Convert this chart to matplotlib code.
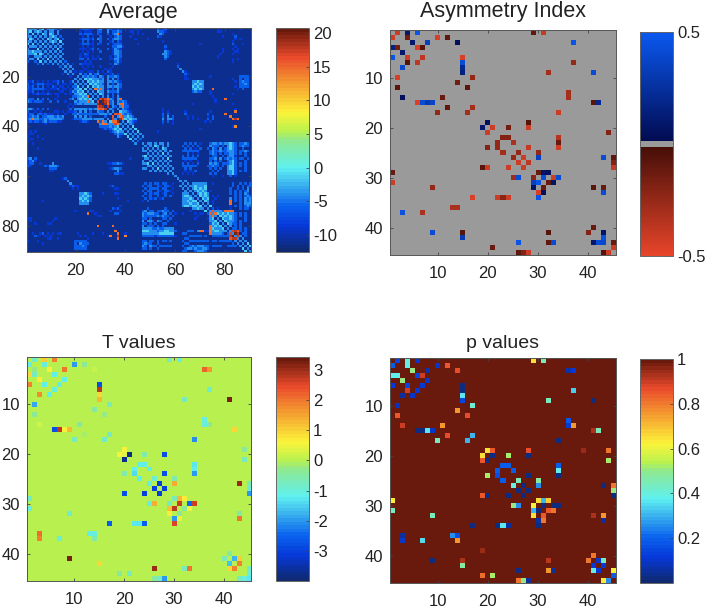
import numpy as np
import matplotlib
matplotlib.use('Agg')
import matplotlib.pyplot as plt
from matplotlib.colors import LinearSegmentedColormap

plt.rcParams['font.family'] = ['Liberation Sans', 'DejaVu Sans']
plt.rcParams['axes.unicode_minus'] = False

# Average connectivity. Levels per cell, groups of ten columns
avg_levels = {'.': -11, '1': -8.5, '2': -6, '3': -4, '4': -1.5}
avg_rows = [
    "3.33.34.33 32.2...... .122211.23 ..321121.. ...1.1.... ..2112.... .......... ......1... .....1....",
    "34.343.3.3 3.3....... .1.111..22 ..3.2232.. .11.1..... ..3221.... .......... ......11.. ..........",
    "..4.3.43.4 3.3....... .212221.21 ..2.2331.. ..1.1.1... ...32..... .......... .......... ..1.......",
    "...3.3.3.3 43.2...... ..1.2.1..2 ...1.232.. .1........ ..21...... .......... ........1. ...2......",
    "....3.3.43 .34.2..... .122212.32 ..2.2332.. ...1....1. .......... .......... .......... ...1.1....",
    ".....3.3.3 43.4...... ..2.2.1..2 ...12.21.. .......... ....1..... .......... .......... ..1.......",
    "......4.3. 3.3.3..... .122211.21 ..2.1222.. ....1..... .......... .........1 .......... ..2...1...",
    ".......3.3 .3.3...... ..1.1.1... ....22331. .......... .....2.... .......... .......... ...1......",
    "........3. 3.4.2..... .111.12.2. ..2.1321.. .......... .....1.... .......... ........1. ..1.1.....",
    ".........3 .3.3...... ..1.1.1..2 ....1332.. .......... .....321.. .......... ........1. ...11.....",
    ".......... 3.3.3..... .1.21..... ....1332.. .......... ....3321.. .......... .......1.. ..1.......",
    ".......... .3.3...... .1.11.1.1. ...1.232.. .......... .....32... .......... ......1... ..........",
    ".......... ..3.3..... .22.2.11.2 ...11331.. .......... .....2.... .......... .......... ..1.1.....",
    ".......... ...3.2.... ...1.1.... .....231.. .......... .......... .......... .......... ..1.......",
    ".......... ....3.3.1. .21111.... ...1.32... .......... .......... 1......... .......... ..........",
    ".......... .....3.3.. ..1.1.1..1 ....1..... .......... .......... 2......... .......... ..........",
    ".......... ......3.3. ...1...... .1.1...... .......... .......... .3........ .......... ..........",
    ".......... .......3.1 .11.111.2. 1.21...... .......... .......... ..31...... .......... ..........",
    ".......... ........3. .3.2.3.23. .1.12.1... .......... .......... ...21..... .......... ..........",
    ".......... .......... 3.323232.3 2.32232... .......... .......... ...1...... ...1...... .....2222.",
    ".......... .......... .3.4343332 3.3.3.2... .......... .......... ...11..... .......... ..1..2.22.",
    ".......... .......... ..3.434343 3.332321.. .......... .......... ......3343 3......... ...1.2322.",
    ".......... .......... ...3.43433 2.3.2.32.. .......... .......... ......3434 3......... .....2232.",
    ".......... .......... ....4.4343 3.332332.. .......... .......... ......4343 3......... ...1.2222.",
    ".......... .......... .....3.434 3.2.2.31.. .......... .......... ......3434 3......... ....1.2...",
    ".......... .......... ......3.43 3.32223... .......... .......... ......2322 ...1...... ..........",
    ".......... .......... .......3.4 3.2.2.2... .......... .......... .......... ...1...... ..1.......",
    ".......... .......... ........3. 3.3.2.3... .......... .......... .......... ....1..... ..........",
    ".......... .......... .........3 .3232.32.. .......... .......... .......... .....1.... ..........",
    ".......... .......... .......... .3.23.3232 .......... .......... .......... .....1.... ..........",
    ".......... .......... .......... .2.23.3.32 1......... .......... ......1... .......... ..1.......",
    ".......... .......... .......... ..3.32.332 2......... .......... .......... .......... ..........",
    ".......... .......... .......... ...32.3.32 1......... ....1..... .......... .......... ...1......",
    ".......... .......... .......... ....3..433 21........ ....1.1... ...1...... ...1...... ..........",
    ".......... .......... .......... .....3..32 32........ ....2.2... ...2...... ..2....... ..........",
    ".......... .......... .......... ......3.43 432....... ....2.3.2. ....1.1... ..1.2..... ..........",
    ".......... .......... .......... .......434 3433...... ....3.332. ....1.1.1. ..2.2..... ..........",
    ".......... .......... .......... ........3. 4321...... ....2.2.1. .......... .1.1...... ..........",
    ".......... .......... .......... .........3 .32....... ....1...1. .......... .......... ..........",
    ".......... .......... .......... .......... 3.4....... .......... .......... .......... ..1.......",
    ".......... .......... .......... .......... .3.4...... .......... .........1 .......... ..........",
    ".......... .......... .......... .......... ..3.4..... ..1....... .......... .......... ..........",
    ".......... .......... .......... .......... ...3.3.... .......... .......... .......... ..........",
    ".......... .......... .......... .......... ....3.3... .......... .......... .......... ..........",
    ".......... .......... .......... .......... .....2.... .......... .......... .......... ..........",
    ".......... .......... .......... .......... .......... .......... .......... .......... ..........",
    ".......... .......... .......... .......... ......3.33 .3.33.3... ...2.2.2.1 ...2332323 3432.2232.",
    ".......... .......... .......... .......... .......3.3 .43.3.3... ..2.2.2.2. ...3222.2. 3432.2322.",
    ".......... .......... .......... .......... ........3. 3.3.43.... ...2.2.1.2 ..2.32.3.2 3432..2...",
    ".......... .......... .......... .......... .........3 .3.3.3.3.. ..2222222. ...2322322 3332.2232.",
    ".......... .......... .......... .......... .......... 3.3.4.3... ....2.1.1. ...232.2.2 2332.2.2..",
    ".......... .......... .......... .......... .......... .3.3.3.3.. ..2.2.2.2. ....22..2. 2331...2..",
    ".......... .......... .......... .......... .......... ..3.3.4... ..222222.. ...223.3.2 3232.22.2.",
    ".......... .......... .......... .......... .......... ...3.3.3.. ...1.1..1. ...2.2.2.. 2342...2..",
    ".......... .......... .......... .......... .......... ....3.3... ..2.2.1.2. ...3232.22 2342.2.2..",
    ".......... .......... .......... .......... .......... .....3.3.. ..222222.. ..22322.2. 3442.2.2..",
    ".......... .......... .......... .......... .......... ......3.3. ...2.2.... ...2.2.2.. 3442...2..",
    ".......... .......... .......... .......... .......... .......3.. ...1.1.2.. ....2.2... 3342.2.2..",
    ".......... .......... .......... .......... .......... ........3. ..1.1.1... ...2.2.... 3342......",
    ".......... .......... .......... .......... .......... .........3 .......... ....1...1. .2.1......",
    ".......... .......... .......... .......... .......... .......... 3......... .......... ..........",
    ".......... .......... .......... .......... .......... .......... .3.3...... .......... ..........",
    ".......... .......... .......... .......... .......... .......... ..3.3.3333 33..1..... ..2..2.2.2",
    ".......... .......... .......... .......... .......... .......... ...3.33433 34........ ..2.2.2.22",
    ".......... .......... .......... .......... .......... .......... ....3.3434 34........ .2..2.2.3.",
    ".......... .......... .......... .......... .......... .......... .....3.343 43.1...... .2.2.2.23.",
    ".......... .......... .......... .......... .......... .......... ......3.34 343....... .2.2.2.32.",
    ".......... .......... .......... .......... .......... .......... .......3.4 343.1.1... ...2.2.232",
    ".......... .......... .......... .......... .......... .......... ........3. 434..1.... .3.2.2.323",
    ".......... .......... .......... .......... .......... .......... .........3 .43.1..... ...2.2.323",
    ".......... .......... .......... .......... .......... .......... .......... 3.3.1..... .2...2.333",
    ".......... .......... .......... .......... .......... .......... .......... .3.4...... .1.2.2.232",
    ".......... .......... .......... .......... .......... .......... .......... ..3.2.1... .1...2.22.",
    ".......... .......... .......... .......... .......... .......... .......... ...3.3332. 322.......",
    ".......... .......... .......... .......... .......... .......... .......... ....3.4343 4332.2.2..",
    ".......... .......... .......... .......... .......... .......... .......... .....3.434 3432.2.2..",
    ".......... .......... .......... .......... .......... .......... .......... ......3.43 3432...2..",
    ".......... .......... .......... .......... .......... .......... .......... .......3.4 3332.2.2..",
    ".......... .......... .......... .......... .......... .......... .......... ........3. 4322.2....",
    ".......... .......... .......... .......... .......... .......... .......... .........3 .3.2.2....",
    ".......... .......... .......... .......... .......... .......... .......... .......... 3.22.2.2..",
    ".......... .......... .......... .......... .......... .......... .......... .......... .3.4.2.2..",
    ".......... .......... .......... .......... .......... .......... .......... .......... ..3.4.22..",
    ".......... .......... .......... .......... .......... .......... .......... .......... ...3.3.2..",
    ".......... .......... .......... .......... .......... .......... .......... .......... ....3.3...",
    ".......... .......... .......... .......... .......... .......... .......... .......... .....3.3..",
    ".......... .......... .......... .......... .......... .......... .......... .......... ......3.4.",
    ".......... .......... .......... .......... .......... .......... .......... .......... .......3.4",
    ".......... .......... .......... .......... .......... .......... .......... .......... ........3.",
    ".......... .......... .......... .......... .......... .......... .......... .......... .........3",
]
# the few hot cells of the average matrix: row, column, value
avg_hot = [(3, 37, 15), (25, 30, 15), (28, 25, 14), (29, 30, 17), (29, 31, 19), (29, 32, 17), (29, 33, 15),
           (30, 31, 20), (30, 32, 18), (30, 33, 16), (31, 32, 19), (31, 33, 15), (32, 33, 18), (31, 38, 15),
           (32, 39, 15), (29, 38, 15), (31, 39, 14), (35, 36, 16), (35, 37, 17), (36, 38, 15), (36, 39, 17),
           (37, 38, 19), (35, 38, 15), (37, 39, 15), (25, 75, 15), (29, 80, 15), (37, 84, 18), (34, 84, 14),
           (35, 80, 15), (36, 82, 14), (37, 83, 15), (37, 85, 15), (40, 84, 13), (70, 82, 15), (71, 82, 15),
           (74, 75, 16), (74, 80, 15), (74, 82, 14), (74, 83, 15), (75, 76, 15), (74, 81, 15), (80, 74, 15),
           (82, 83, 19), (82, 84, 18), (82, 85, 16), (83, 84, 20), (83, 85, 18), (84, 85, 18), (83, 82, 17)]

# Asymmetry index, non zero cells: row, column, value
asym_cells = [
    (1, 2, -.42), (1, 4, .1), (1, 6, .47), (1, 29, -.1), (1, 31, -.4),
    (2, 1, -.42), (2, 4, -.15), (2, 10, -.45), (2, 12, -.1),
    (3, 5, .1), (3, 8, .35), (3, 14, .05), (3, 37, .47),
    (4, 1, .15), (4, 2, -.15), (4, 6, -.45), (4, 7, -.06),
    (5, 3, .1), (6, 1, .47), (6, 4, -.42), (6, 7, -.38), (6, 15, -.45),
    (7, 4, -.05), (7, 6, -.38), (7, 15, .42), (7, 37, -.25),
    (8, 3, .4), (8, 15, .2), (9, 15, .15), (9, 32, -.3), (9, 41, .42),
    (10, 2, -.45), (10, 17, -.25), (11, 14, -.15), (12, 2, -.08), (12, 16, -.08),
    (13, 36, -.3), (14, 3, .05), (14, 11, -.12), (14, 36, -.3),
    (15, 6, -.45), (15, 7, .42), (15, 8, .3), (15, 9, .38), (15, 41, -.08), (15, 42, .2),
    (16, 12, -.1), (16, 17, -.3), (17, 10, -.25), (17, 16, -.3), (17, 34, -.42),
    (19, 20, .05), (19, 28, -.07), (20, 19, .1), (20, 21, -.42), (20, 24, -.15), (20, 28, -.42),
    (21, 20, -.42), (21, 44, -.2), (22, 23, -.2), (22, 24, -.2), (22, 34, -.35),
    (23, 22, -.25), (23, 25, -.32), (23, 34, -.12), (24, 20, -.2), (24, 22, -.25), (24, 28, -.4), (24, 34, -.42),
    (25, 23, -.3), (25, 26, -.25), (25, 30, -.25), (26, 25, -.25), (26, 27, -.42), (26, 30, .35),
    (26, 43, .42), (26, 45, -.1), (27, 26, -.42), (27, 28, -.38), (27, 45, -.2),
    (28, 19, -.08), (28, 20, -.42), (28, 24, -.42), (28, 27, -.42), (28, 45, -.4),
    (29, 1, -.12), (29, 30, -.12), (29, 31, .08), (29, 32, .05),
    (30, 25, -.28), (30, 26, .42), (30, 29, -.22), (30, 31, .42), (30, 33, -.42), (30, 34, .42),
    (31, 1, -.42), (31, 29, .35), (31, 30, .47), (31, 32, -.12), (31, 33, .08),
    (32, 9, -.25), (32, 29, .08), (32, 31, -.12), (32, 41, -.08), (32, 43, -.12),
    (33, 30, -.45), (33, 31, .05), (33, 43, .42),
    (34, 17, -.45), (34, 22, -.42), (34, 23, -.22), (34, 24, -.42), (34, 30, .47),
    (36, 13, -.32), (36, 14, -.32), (37, 3, .45), (37, 7, -.32), (40, 41, -.12),
    (41, 9, .42), (41, 15, -.07), (41, 32, -.07), (41, 40, -.2), (41, 43, .08),
    (42, 15, .3), (42, 43, .45), (43, 26, .47), (43, 32, -.1), (43, 33, .42),
    (43, 41, .1), (43, 42, .42), (43, 43, .4), (43, 45, -.12),
    (44, 21, -.12), (44, 45, -.42), (45, 26, -.1), (45, 27, -.2), (45, 28, -.42),
    (45, 43, -.06), (45, 44, -.42),
]

# T values, non zero cells
t_cells = [
    (1, 2, -.8), (1, 4, 1), (1, 6, 1.8), (1, 29, -.7), (1, 31, -.9),
    (2, 1, -1), (2, 4, -1), (2, 10, -2), (2, 12, -.4),
    (3, 2, -.2), (3, 5, .6), (3, 8, 2), (3, 14, .15), (3, 36, 2.2), (3, 37, 1.6),
    (4, 1, .9), (4, 2, -.8), (4, 6, -1.2), (5, 3, .7), (5, 8, -1.1),
    (6, 1, 1.8), (6, 4, -1.2), (6, 7, -1), (6, 15, -2.8),
    (7, 6, -1), (7, 15, 2.8), (7, 37, -.8), (8, 3, 1.7), (8, 5, -1.1), (8, 15, .9),
    (9, 15, 1.3), (9, 32, -.7), (9, 41, 3.3), (10, 2, -1.8), (10, 17, -.6), (11, 14, -.5),
    (12, 2, -.4), (12, 16, -.2), (13, 36, -1), (14, 3, .2), (14, 11, -.5), (14, 36, -1), (14, 37, -.4),
    (15, 6, -2.8), (15, 7, 2.8), (15, 8, .6), (15, 9, 1.3), (15, 42, .9),
    (16, 12, -.1), (16, 17, -.7), (17, 10, -.7), (17, 16, -.8), (17, 34, -2.1),
    (19, 20, .6), (19, 44, -.4), (20, 19, .6), (20, 20, .3), (20, 21, -3.8), (20, 24, -.6), (20, 28, -2.8),
    (21, 20, -3.7), (21, 44, -.7), (22, 23, -1.1), (22, 24, -1.1), (22, 34, -1.3),
    (23, 22, -1.2), (23, 25, -1), (23, 34, -1.1), (24, 20, -.6), (24, 22, -1.4), (24, 28, -2.8), (24, 34, -2),
    (25, 23, -1.1), (25, 26, -.9), (25, 30, -.6), (26, 25, -.9), (26, 27, -3), (26, 30, 1.4),
    (26, 43, 3), (26, 45, -.6), (27, 26, -3), (27, 28, -3), (27, 45, -.9),
    (28, 20, -2.8), (28, 24, -3), (28, 27, -3), (28, 45, -2),
    (29, 1, -.8), (29, 30, -.7), (29, 31, 1.3), (29, 32, .7),
    (30, 25, -.9), (30, 26, 1.4), (30, 29, -.7), (30, 31, 2.7), (30, 33, -2.4), (30, 34, 2.7),
    (31, 1, -1), (31, 29, 1.2), (31, 30, 2.8), (31, 32, -.4), (31, 33, .6),
    (32, 9, -.8), (32, 29, .7), (32, 31, -.4), (32, 43, -.5),
    (33, 30, -2), (33, 31, .5), (33, 43, 2),
    (34, 17, -2.5), (34, 22, -1.3), (34, 23, -1.3), (34, 24, -2.5), (34, 30, 2.6),
    (36, 3, 2.1), (36, 13, -1), (36, 14, -1), (37, 3, 1.8), (37, 7, -.9), (37, 14, -.6),
    (40, 41, -.5), (41, 9, 3.3), (41, 40, -.7), (41, 42, -1.7), (41, 43, 1),
    (42, 15, .9), (42, 41, -1.6), (42, 43, 1.8),
    (43, 26, 3), (43, 32, -.7), (43, 33, 2), (43, 41, .9), (43, 42, 1.8), (43, 45, -.8),
    (44, 19, -.3), (44, 21, -.7), (44, 45, -1),
    (45, 26, -.5), (45, 27, -.8), (45, 28, -2), (45, 43, -.7), (45, 44, -1), (45, 45, -1.3),
]

# p values, cells below 1
p_cells = [
    (1, 2, .15), (1, 4, .4), (1, 6, .1), (1, 29, .65), (1, 31, .45),
    (2, 1, .2), (2, 4, .38), (2, 10, .1), (2, 12, .85),
    (3, 5, .5), (3, 8, .07), (3, 14, .87), (3, 36, .07), (3, 37, .12),
    (4, 1, .38), (4, 2, .38), (4, 6, .15), (4, 7, .9), (5, 3, .5), (5, 8, .1),
    (6, 1, .12), (6, 4, .15), (6, 7, .12), (6, 15, .02),
    (7, 4, .9), (7, 6, .12), (7, 15, .02), (7, 37, .33),
    (8, 3, .05), (8, 5, .1), (8, 15, .37), (9, 15, .15), (9, 32, .45), (9, 41, .02),
    (10, 2, .08), (10, 17, .42), (11, 14, .75), (12, 2, .85), (12, 16, .87),
    (13, 36, .18), (14, 3, .9), (14, 11, .75), (14, 36, .12), (14, 37, .75),
    (15, 6, .03), (15, 7, .03), (15, 8, .37), (15, 9, .1), (15, 41, .93), (15, 42, .45),
    (16, 12, .87), (16, 17, .3), (17, 10, .45), (17, 16, .3), (17, 34, .02),
    (19, 20, .65), (19, 21, .85), (19, 28, .87), (19, 39, .95), (19, 44, .8),
    (20, 19, .65), (20, 21, .02), (20, 24, .52), (20, 28, .03),
    (21, 19, .85), (21, 20, .02), (21, 44, .52), (22, 23, .2), (22, 24, .2), (22, 34, .2),
    (23, 22, .2), (23, 25, .2), (23, 34, .38), (24, 20, .52), (24, 22, .17), (24, 28, .02), (24, 34, .03),
    (25, 23, .2), (25, 26, .45), (25, 30, .48), (26, 25, .4), (26, 27, .02), (26, 30, .25),
    (26, 43, .03), (26, 45, .8), (27, 26, .02), (27, 28, .02), (27, 45, .5),
    (28, 19, .85), (28, 20, .03), (28, 24, .02), (28, 27, .02), (28, 45, .03),
    (29, 1, .63), (29, 30, .65), (29, 31, .3), (29, 32, .68),
    (30, 25, .5), (30, 26, .25), (30, 29, .62), (30, 31, .03), (30, 33, .03), (30, 34, .03),
    (31, 1, .45), (31, 29, .3), (31, 30, .03), (31, 32, .85), (31, 33, .8),
    (32, 9, .45), (32, 29, .65), (32, 31, .85), (32, 41, .93), (32, 43, .75),
    (33, 30, .05), (33, 31, .8), (33, 43, .05),
    (34, 17, .03), (34, 22, .03), (34, 23, .37), (34, 24, .05), (34, 30, .03),
    (36, 3, .05), (36, 13, .25), (36, 14, .17), (37, 3, .1), (37, 7, .35), (37, 14, .75),
    (39, 19, .95), (40, 41, .8), (41, 9, .02), (41, 15, .93), (41, 32, .92), (41, 40, .8), (41, 42, .1), (41, 43, .45),
    (42, 15, .48), (42, 41, .12), (42, 43, .12),
    (43, 26, .03), (43, 32, .75), (43, 33, .05), (43, 41, .4), (43, 42, .12), (43, 45, .62),
    (44, 19, .82), (44, 21, .52), (44, 45, .2),
    (45, 26, .8), (45, 27, .5), (45, 28, .05), (45, 43, .63), (45, 44, .25),
]

# jet as it looks in the picture, a bit muted
jet_stops = [(0, '#0f2a70'), (.11, '#0638d8'), (.2, '#0a62ee'), (.375, '#5ff0f0'),
             (.5, '#8fe890'), (.54, '#b9f24f'), (.625, '#fbf33a'), (.75, '#f5a030'),
             (.875, '#ea4a2b'), (1, '#6a1a0c')]
jet_soft = LinearSegmentedColormap.from_list('jet_soft', jet_stops, N=64)

asym_stops = [(0, '#e8452a'), (.488, '#450e07'), (.488, '#9a9a9a'), (.512, '#9a9a9a'),
              (.512, '#020a50'), (1, '#0a58f0')]
asym_map = LinearSegmentedColormap.from_list('asym', asym_stops, N=256)

W, H = 708, 609


def box(x0, y0, x1, y1):
    return [x0 / W, 1 - y1 / H, (x1 - x0) / W, (y1 - y0) / H]


def from_cells(cells, fill):
    m = np.full((45, 45), float(fill))
    for r, c, v in cells:
        m[r - 1, c - 1] = v
    return m


def panel(m, title, ax_box, cax_box, cmap, vmin, vmax, ticks, cticks, clabels=None, title_size=14, pad=7):
    ax = fig.add_axes(box(*ax_box))
    n = m.shape[0]
    im = ax.imshow(m, cmap=cmap, vmin=vmin, vmax=vmax, interpolation='nearest', aspect='auto',
                   extent=(.5, n + .5, n + .5, .5))
    ax.set_xticks(ticks)
    ax.set_yticks(ticks)
    ax.tick_params(direction='in', length=2.5, width=.6, color='#444444', labelsize=12,
                   labelcolor='#222222', pad=8, top=True, right=True)
    ax.tick_params(axis='y', pad=5)
    for s in ax.spines.values():
        s.set_color('#555555')
        s.set_linewidth(.7)
    ax.set_title(title, fontsize=title_size, color='#222222', pad=pad)
    cax = fig.add_axes(box(*cax_box))
    cb = fig.colorbar(im, cax=cax)
    cb.set_ticks(cticks)
    if clabels:
        cb.set_ticklabels(clabels)
    cb.ax.tick_params(direction='in', length=2.5, width=.6, color='#444444', labelsize=12,
                      labelcolor='#222222', pad=3)
    cb.outline.set_edgecolor('#666666')
    cb.outline.set_linewidth(.7)


# build the average matrix from the rows
avg = np.array([[avg_levels[ch] for ch in row.replace(' ', '')] for row in avg_rows], dtype=float)
avg = np.maximum(avg, avg.T)
for r, c, v in avg_hot:
    avg[r - 1, c - 1] = v
    avg[c - 1, r - 1] = v

fig = plt.figure(figsize=(W / 100, H / 100), dpi=100)

panel(avg, 'Average', (27, 28, 251, 252), (276, 28, 309, 252), jet_soft, -12.5, 20.75,
      [20, 40, 60, 80], [-10, -5, 0, 5, 10, 15, 20], title_size=15.5, pad=7.5)
panel(from_cells(asym_cells, 0), 'Asymmetry Index', (390, 30, 615.5, 255), (640, 32, 673, 256), asym_map, -.5, .5,
      [10, 20, 30, 40], [-.5, .5], ['-0.5', '0.5'], title_size=15.5, pad=9.4)
panel(from_cells(t_cells, 0), 'T values', (27, 357, 251, 581), (276, 357, 309, 581), jet_soft, -3.99, 3.42,
      [10, 20, 30, 40], [-3, -2, -1, 0, 1, 2, 3], pad=6.5)
panel(from_cells(p_cells, 1), 'p values', (390, 358, 615.5, 583), (640, 359, 673, 583), jet_soft, 0, 1,
      [10, 20, 30, 40], [.2, .4, .6, .8, 1], ['0.2', '0.4', '0.6', '0.8', '1'])

fig.savefig('out.png', dpi=100)
